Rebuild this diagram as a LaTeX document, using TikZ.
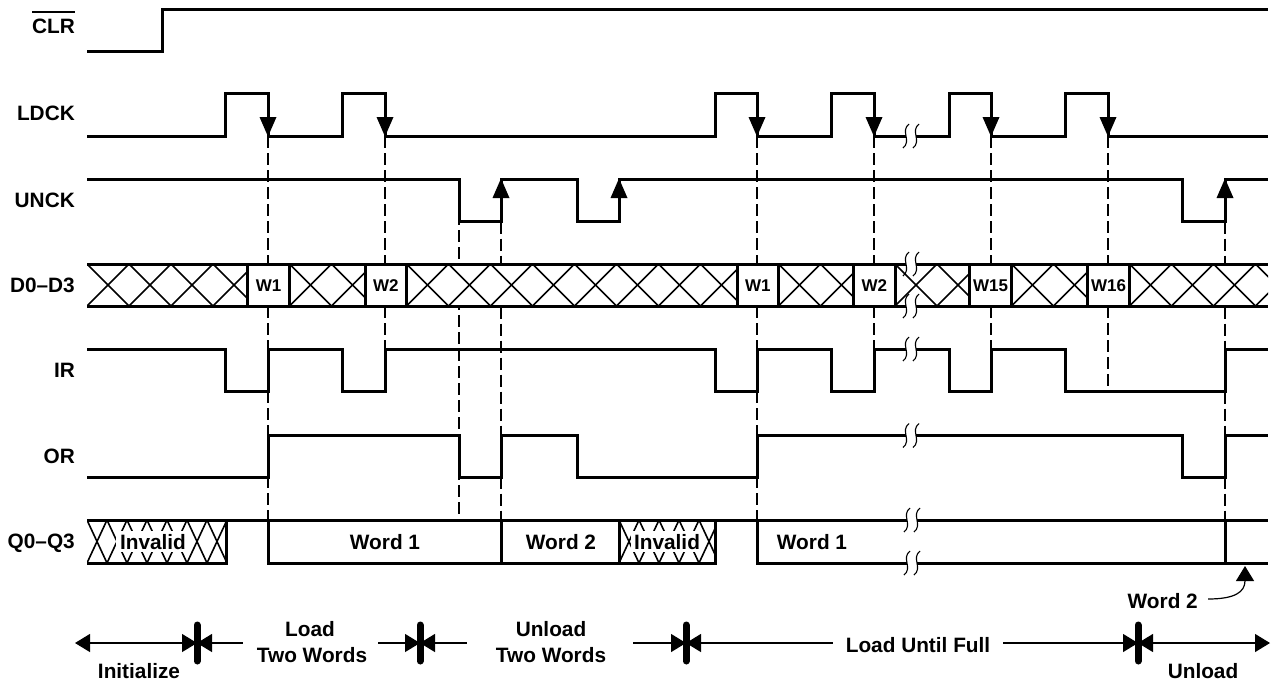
\documentclass[tikz,border=0pt]{standalone}
\usepackage{fontspec}
\setmainfont{Liberation Sans}
\usetikzlibrary{arrows.meta}
\tikzset{
  sig/.style={line width=3pt},
  thinl/.style={line width=1.2pt},
  dsh/.style={line width=1.1pt, dash pattern=on 12pt off 5pt},
  hatchl/.style={line width=1.6pt},
  lbl/.style={font=\fontsize{20.8}{24}\selectfont\bfseries, inner sep=0pt},
  wl/.style={font=\fontsize{17}{20}\selectfont\bfseries, inner sep=0pt},
  dimtipB/.style={{Triangle[length=15pt,width=18pt]}-{Triangle[length=15pt,width=18pt]}},
  dimtipL/.style={{Triangle[length=15pt,width=18pt]}-},
  dimtipR/.style={-{Triangle[length=15pt,width=18pt]}},
  barstyle/.style={line width=7pt, line cap=round},
}
\newcommand{\hatchbox}[5]{%
  \begin{scope}
    \clip (#1,#3) rectangle (#2,#4);
    \pgfmathtruncatemacro{\myhn}{(#2-#1)/#5}
    \foreach \k in {0,...,\myhn}{
      \draw[hatchl] ({#1+\k*#5},#3) -- ({#1+(\k+1)*#5},#4);
      \draw[hatchl] ({#1+\k*#5},#4) -- ({#1+(\k+1)*#5},#3);
    }
  \end{scope}}
\newcommand{\brkmark}[2]{%
  \fill[white] ({#1-5},{#2-2.5}) rectangle ({#1+5},{#2+2.5});
  \foreach \dx in {-5,5}{
    \draw[line width=1.1pt] ({#1+\dx+3},{#2-12}) .. controls ({#1+\dx-6},{#2-5}) and ({#1+\dx+6},{#2+5}) .. ({#1+\dx-3},{#2+12});
  }}
\newcommand{\downarr}[1]{\fill ({#1-8.5},117) -- ({#1+8.5},117) -- (#1,136.5) -- cycle;}
\newcommand{\uparr}[1]{\fill ({#1-8.5},198) -- ({#1+8.5},198) -- (#1,178.5) -- cycle;}
\begin{document}
\begin{tikzpicture}[x=1pt,y=-1pt]
\useasboundingbox (0,0) rectangle (1273,681);

% ---- labels
\node[lbl, anchor=base east] (lclr) at (75,33) {CLR};
\draw[line width=1.6pt] (32,12) -- (75,12);
\node[lbl, anchor=base east] (lldck) at (75,120) {LDCK};
\node[lbl, anchor=base east] (lunck) at (75,207) {UNCK};
\node[lbl, anchor=base east] (ld) at (75,292) {D0–D3};
\node[lbl, anchor=base east] (lir) at (75,377) {IR};
\node[lbl, anchor=base east] (lor) at (75,463) {OR};
\node[lbl, anchor=base east] (lq) at (75,548) {Q0–Q3};

% ---- dashed reference lines
\foreach \x/\ya/\yb in {268/136/520, 385/136/349, 459/179/520, 501/221.5/520, 757/136/520, 874/136/349, 991/136/349, 1108/136/391.5, 1225/221.5/520}{
  \draw[dsh] (\x,\ya) -- (\x,\yb);
}

% ---- CLR
\draw[sig] (87,51) -- (162,51) -- (162,9) -- (1268,9);

% ---- LDCK
\draw[sig] (87,136) -- (225,136) -- (225,93) -- (268,93) -- (268,136)
  -- (342,136) -- (342,93) -- (385,93) -- (385,136)
  -- (715,136) -- (715,93) -- (757,93) -- (757,136)
  -- (831.5,136) -- (831.5,93) -- (874,93) -- (874,136)
  -- (949,136) -- (949,93) -- (991,93) -- (991,136)
  -- (1065,136) -- (1065,93) -- (1108,93) -- (1108,136) -- (1268,136);
\foreach \x in {268,385,757,874,991,1108}{\downarr{\x}}
\brkmark{911}{136}

% ---- UNCK
\draw[sig] (87,179) -- (459,179) -- (459,221.5) -- (501,221.5) -- (501,179)
  -- (577,179) -- (577,221.5) -- (619,221.5) -- (619,179)
  -- (1182,179) -- (1182,221.5) -- (1225,221.5) -- (1225,179) -- (1268,179);
\foreach \x in {501,619,1225}{\uparr{\x}}

% ---- D0-D3 bus
\fill[white] (87,264) rectangle (1268,306);
\hatchbox{87}{247.5}{264}{306}{42}
\hatchbox{289.5}{365}{264}{306}{42}
\hatchbox{406.5}{737}{264}{306}{42}
\hatchbox{778.5}{853.5}{264}{306}{42}
\hatchbox{895}{969.5}{264}{306}{42}
\hatchbox{1011.5}{1087.5}{264}{306}{42}
\hatchbox{1129.5}{1268}{264}{306}{42}
\draw[sig] (87,264) -- (1268,264);
\draw[sig] (87,306) -- (1268,306);
\foreach \xa/\xb/\t [count=\i] in {247.5/289.5/W1, 365/406.5/W2, 737/778.5/W1, 853.5/895/W2, 969.5/1011.5/W15, 1087.5/1129.5/W16}{
  \draw[sig, fill=white] (\xa,264) rectangle (\xb,306);
  \node[wl, anchor=base] (w\i) at ({(\xa+\xb)/2},291) {\t};
}
\brkmark{911}{264}
\brkmark{911}{306}

% ---- IR
\draw[sig] (87,349) -- (225,349) -- (225,391.5) -- (268,391.5) -- (268,349)
  -- (342,349) -- (342,391.5) -- (385,391.5) -- (385,349)
  -- (715,349) -- (715,391.5) -- (757,391.5) -- (757,349)
  -- (831.5,349) -- (831.5,391.5) -- (874,391.5) -- (874,349)
  -- (949,349) -- (949,391.5) -- (991,391.5) -- (991,349)
  -- (1065,349) -- (1065,391.5) -- (1225,391.5) -- (1225,349) -- (1268,349);
\brkmark{911}{349}

% ---- OR
\draw[sig] (87,477) -- (268,477) -- (268,435.5) -- (459,435.5) -- (459,477)
  -- (501,477) -- (501,435.5) -- (577,435.5) -- (577,477)
  -- (757,477) -- (757,435.5) -- (1182,435.5) -- (1182,477)
  -- (1225,477) -- (1225,435.5) -- (1268,435.5);
\brkmark{911}{435.5}

% ---- Q0-Q3
\fill[white] (87,520) rectangle (226.5,563);
\hatchbox{87}{226.5}{520}{563}{20}
\hatchbox{619}{715.5}{520}{563}{20}
\draw[sig] (87,520) -- (1268,520);
\draw[sig] (87,563) -- (226.5,563) -- (226.5,520);
\draw[sig] (268,520) -- (268,563) -- (715.5,563) -- (715.5,520);
\draw[sig] (501,520) -- (501,563);
\draw[sig] (619,520) -- (619,563);
\draw[sig] (757,520) -- (757,563) -- (1268,563);
\draw[sig] (1225,520) -- (1225,563);
\node[lbl, anchor=base, fill=white, inner xsep=4pt, inner ysep=3pt] (qinv1) at (153,549) {Invalid};
\node[lbl, anchor=base] (qw1) at (385,549) {Word 1};
\node[lbl, anchor=base] (qw2) at (561,549) {Word 2};
\node[lbl, anchor=base, fill=white, inner xsep=3pt, inner ysep=3pt] (qinv2) at (667,549) {Invalid};
\node[lbl, anchor=base] (qw1b) at (812,549) {Word 1};
\brkmark{912}{520}
\brkmark{912}{563}

% ---- Word 2 callout
\node[lbl, anchor=base east] (cw2) at (1198,608) {Word 2};
\coordinate (cw2tip) at (1245,566);
\draw[thinl, -{Triangle[length=15pt,width=18pt]}] ([xshift=10pt]cw2.base east) ++(0,-9) .. controls +(27,0) and (1245,592) .. (cw2tip);

% ---- phase dimension line
\coordinate (b0) at (75,643);
\coordinate (b1) at (197,643);
\coordinate (b2) at (420,643);
\coordinate (b3) at (686,643);
\coordinate (b4) at (1138,643);
\coordinate (b5) at (1270,643);
\draw[thinl, dimtipB] (b0) -- (b1);
\draw[thinl, dimtipL] (b1) -- (243,643);
\draw[thinl, dimtipR] (378,643) -- (b2);
\draw[thinl, dimtipL] (b2) -- (467,643);
\draw[thinl, dimtipR] (633,643) -- (b3);
\draw[thinl, dimtipL] (b3) -- (833,643);
\draw[thinl, dimtipR] (1003,643) -- (b4);
\draw[thinl, dimtipB] (b4) -- (b5);
\foreach \b in {b1,b2,b3,b4}{
  \draw[barstyle] ([yshift=18pt]\b) -- ([yshift=-18pt]\b);
}
\node[lbl, anchor=base] (tinit) at (139,678) {Initialize};
\node[lbl, anchor=base] (tload1) at (310,636) {Load};
\node[lbl, anchor=base] (tload2) at (312,662) {Two Words};
\node[lbl, anchor=base] (tunl1) at (551,636) {Unload};
\node[lbl, anchor=base] (tunl2) at (551,662) {Two Words};
\node[lbl, anchor=base] (tfull) at (918,652) {Load Until Full};
\node[lbl, anchor=base] (tunl) at (1203,678) {Unload};
\end{tikzpicture}
\end{document}
